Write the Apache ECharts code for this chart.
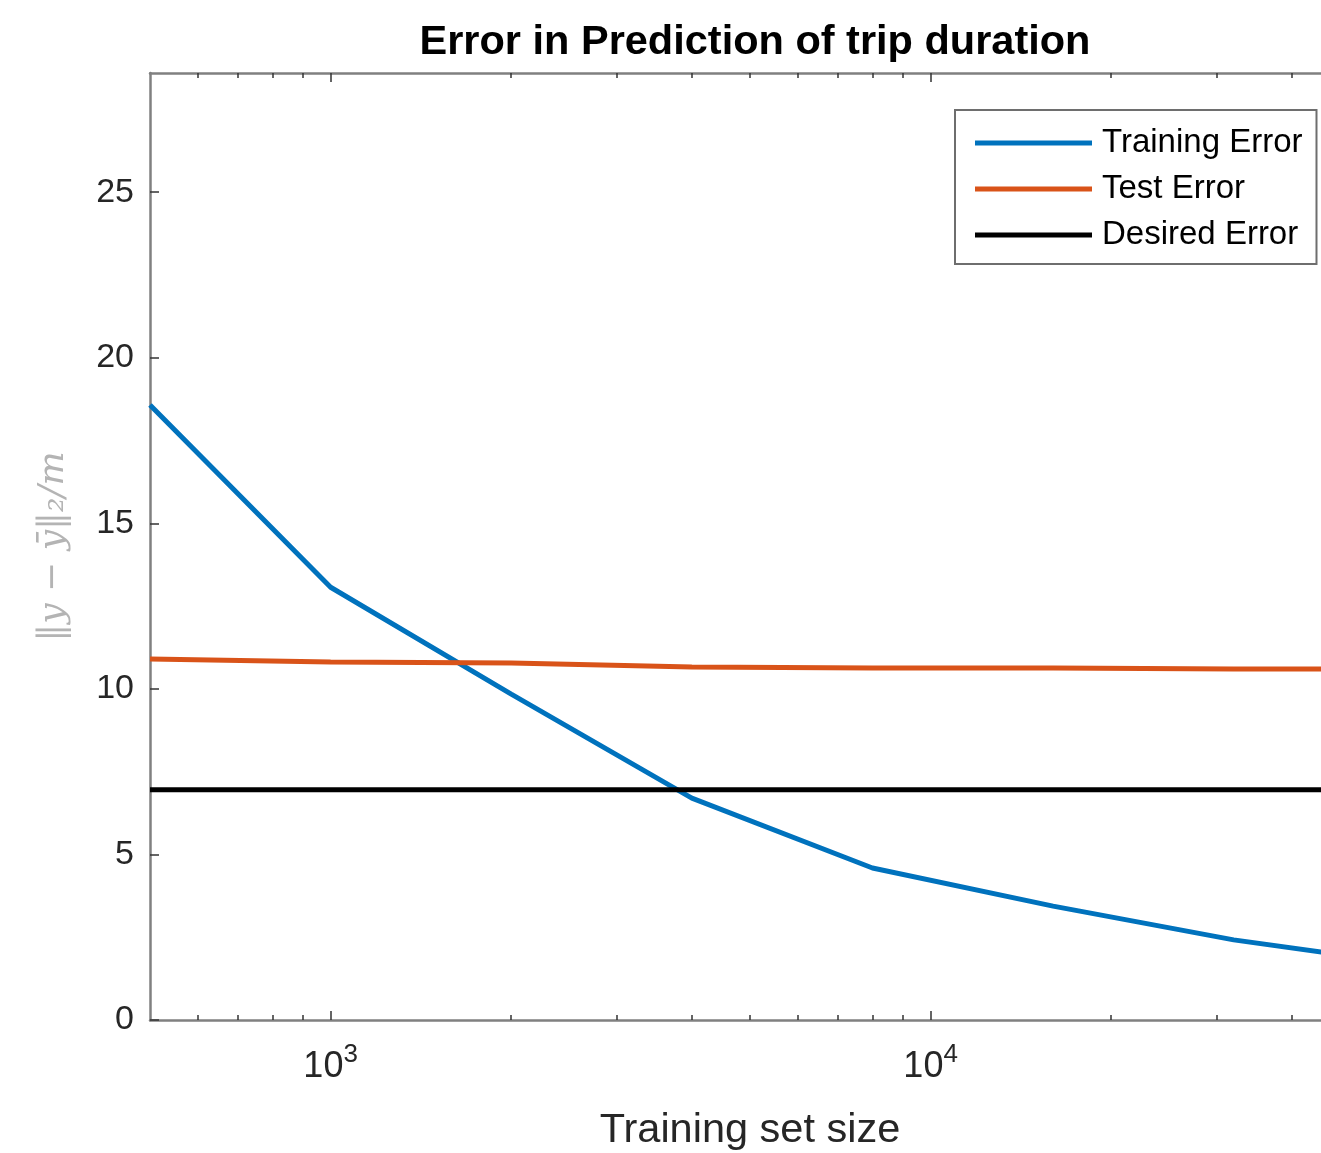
<!DOCTYPE html>
<html>
<head>
<meta charset="utf-8">
<script src="https://cdn.jsdelivr.net/npm/echarts@6/dist/echarts.min.js"></script>
<style>html,body{margin:0;padding:0;background:#fff}#c{width:1321px;height:1153px}</style>
</head>
<body>
<div id="c"></div>
<script>
// ---- data ----
const trainSizes = [500, 1000, 2000, 4000, 8000, 16000, 32000, 50000];
const trainingError = [18.57, 13.07, 9.84, 6.70, 4.59, 3.44, 2.42, 1.93];
const testError = [10.90, 10.81, 10.78, 10.66, 10.63, 10.63, 10.60, 10.60];
const desiredSizes = [500, 50000];
const desiredError = [6.95, 6.95];
const majorTicks = [1000, 10000];
const minorTicks = [600, 700, 800, 900, 2000, 3000, 4000, 5000, 6000, 7000, 8000, 9000, 20000, 30000, 40000];
const yTicks = [0, 5, 10, 15, 20, 25];
const seriesNames = ['Training Error', 'Test Error', 'Desired Error'];

const X_MIN = 500, X_MAX = 50000, Y_MIN = 0, Y_MAX = 28.6;
const FONT = '"Liberation Sans", Arial, Helvetica, sans-serif';
const AXIS_COLOR = '#808080';
const TICK_COLOR = '#333';

const pairs = (xs, ys) => xs.map((x, i) => [x, ys[i]]);
const lg = v => Math.log10(v);

function tickAxis(position, values, len, withLabels) {
  return {
    type: 'value', gridIndex: 0, position: position,
    min: lg(X_MIN), max: lg(X_MAX),
    axisLine: { show: false },
    splitLine: { show: false },
    axisTick: { show: true, inside: true, length: len, customValues: values.map(lg),
      lineStyle: { color: TICK_COLOR, width: 1.5 } },
    axisLabel: withLabels ? {
      show: true, customValues: values.map(lg), margin: 22,
      formatter: v => '{b|10}{s|' + Math.round(v) + '}',
      rich: {
        b: { fontFamily: FONT, fontSize: 36, color: '#262626' },
        s: { fontFamily: FONT, fontSize: 26, color: '#262626', padding: [0, 0, 24, 0] }
      }
    } : { show: false }
  };
}

const chart = echarts.init(document.getElementById('c'), null, { renderer: 'canvas' });
chart.setOption({
  backgroundColor: '#ffffff',
  animation: false,
  title: {
    text: 'Error in Prediction of trip duration',
    left: 750, top: 17, textAlign: 'center',
    textStyle: { fontFamily: FONT, fontWeight: 'bold', fontSize: 41.5, color: '#000' }
  },
  legend: {
    orient: 'vertical', left: 955, top: 110,
    padding: [15, 14, 11, 20],
    itemWidth: 117, itemHeight: 5, itemGap: 10,
    icon: 'rect',
    backgroundColor: '#fff', borderColor: '#6e6e6e', borderWidth: 2,
    textStyle: { fontFamily: FONT, fontSize: 33, color: '#000', lineHeight: 36, padding: [0, 0, 0, 5] },
    data: seriesNames
  },
  grid: { left: 150, top: 73, right: -29, bottom: 133, containLabel: false, outerBoundsMode: 'none' },
  xAxis: [
    {
      type: 'log', logBase: 10, position: 'bottom', min: X_MIN, max: X_MAX,
      name: 'Training set size', nameLocation: 'middle', nameGap: 90,
      nameTextStyle: { fontFamily: FONT, fontSize: 41.5, color: '#262626' },
      axisLine: { show: true, lineStyle: { color: AXIS_COLOR, width: 2.5 } },
      axisTick: { show: false }, axisLabel: { show: false }, splitLine: { show: false }, minorSplitLine: { show: false }
    },
    {
      type: 'log', logBase: 10, position: 'top', min: X_MIN, max: X_MAX,
      axisLine: { show: true, lineStyle: { color: AXIS_COLOR, width: 2.5 } },
      axisTick: { show: false }, axisLabel: { show: false }, splitLine: { show: false }
    },
    tickAxis('bottom', majorTicks, 9, true),
    tickAxis('bottom', minorTicks, 5, false),
    tickAxis('top', majorTicks, 9, false),
    tickAxis('top', minorTicks, 5, false)
  ],
  yAxis: [{
    type: 'value', position: 'left', min: Y_MIN, max: Y_MAX,
    name: '‖y − ȳ‖₂/m', nameLocation: 'middle', nameGap: 78, nameRotate: 90,
    nameTextStyle: { fontFamily: '"DejaVu Serif", "Liberation Serif", serif', fontStyle: 'italic', fontSize: 36, color: '#b4b4b4' },
    axisLine: { show: true, lineStyle: { color: AXIS_COLOR, width: 2.5 } },
    axisTick: { show: true, inside: true, length: 9, customValues: yTicks, lineStyle: { color: TICK_COLOR, width: 1.5 } },
    axisLabel: { show: true, customValues: yTicks, margin: 16, fontFamily: FONT, fontSize: 34, color: '#262626' },
    splitLine: { show: false }
  }],
  series: [
    { name: seriesNames[0], type: 'line', xAxisIndex: 0, yAxisIndex: 0, data: pairs(trainSizes, trainingError),
      showSymbol: false, symbol: 'none', lineStyle: { color: '#0072BD', width: 5 }, itemStyle: { color: '#0072BD' }, z: 3 },
    { name: seriesNames[1], type: 'line', xAxisIndex: 0, yAxisIndex: 0, data: pairs(trainSizes, testError),
      showSymbol: false, symbol: 'none', lineStyle: { color: '#D95319', width: 5 }, itemStyle: { color: '#D95319' }, z: 3 },
    { name: seriesNames[2], type: 'line', xAxisIndex: 0, yAxisIndex: 0, data: pairs(desiredSizes, desiredError),
      showSymbol: false, symbol: 'none', lineStyle: { color: '#000000', width: 5 }, itemStyle: { color: '#000000' }, z: 3 }
  ]
});
</script>
</body>
</html>
